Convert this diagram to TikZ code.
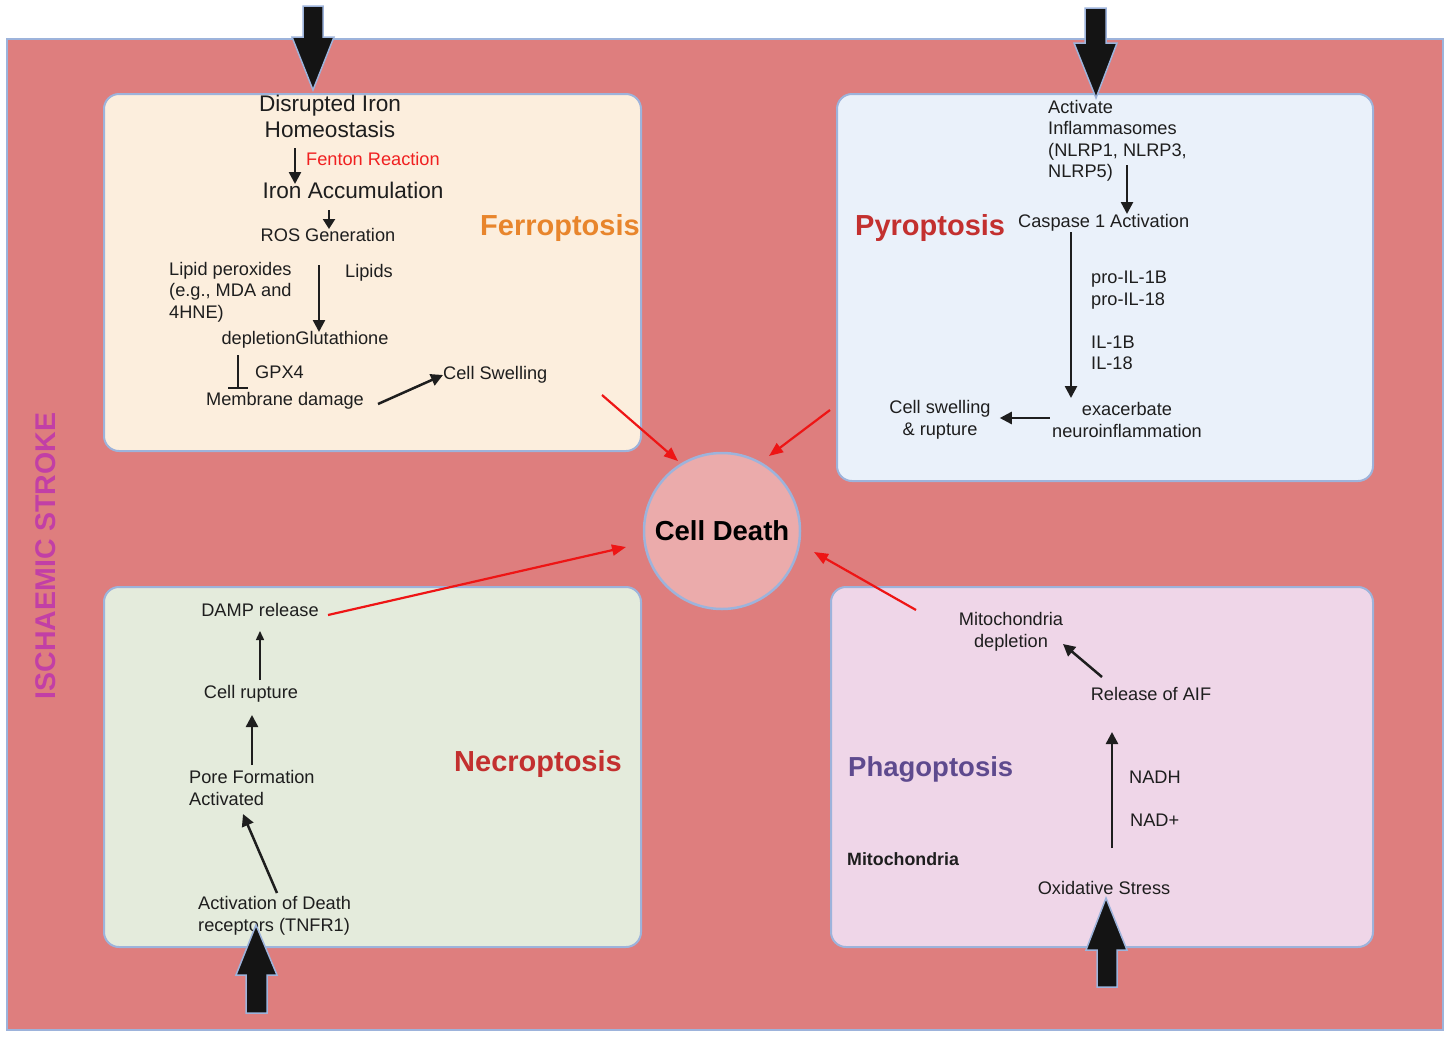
\documentclass[tikz,border=0pt]{standalone}
\usepackage{fontspec}
\setmainfont{Liberation Sans}
\usetikzlibrary{arrows.meta,calc}
\definecolor{bgred}{HTML}{DE7E7E}
\definecolor{edge}{HTML}{9DB3DB}
\definecolor{ferrofill}{HTML}{FCEEDD}
\definecolor{pyrofill}{HTML}{EAF1FA}
\definecolor{necrofill}{HTML}{E4EBDC}
\definecolor{phagofill}{HTML}{EFD6E8}
\definecolor{circfill}{HTML}{EBABAB}
\definecolor{ferroorange}{HTML}{E8852C}
\definecolor{titlered}{HTML}{C3302F}
\definecolor{phagopurple}{HTML}{5E4A8E}
\definecolor{strokemag}{HTML}{C23FA6}
\definecolor{arrred}{HTML}{EE1515}
\definecolor{fentonred}{HTML}{F02020}
\definecolor{ink}{HTML}{1E1E1E}
\begin{document}
\begin{tikzpicture}[x=1pt,y=-1pt,
  panel/.style={draw=edge,line width=2pt,rounded corners=15pt,anchor=north west,inner sep=0pt},
  txt/.style={font=\fontsize{18.2}{21.5}\selectfont,inner sep=0pt,text=ink},
  bigtxt/.style={font=\fontsize{22.6}{26}\selectfont,inner sep=0pt,text=ink},
  ttl/.style={font=\bfseries\fontsize{29}{33}\selectfont,inner sep=0pt,anchor=west},
  arr/.style={draw=ink,line width=2.5pt,-{Triangle[length=12pt,width=12pt]}},
  thinarr/.style={draw=ink,line width=1.5pt,-{Triangle[length=9pt,width=8pt]}},
  redarr/.style={draw=arrred,line width=2.2pt,-{Triangle[length=14pt,width=11pt]}},
  blockarr/.style={fill=black!92,draw=edge,line width=1.5pt,line join=miter}]
\useasboundingbox (0,0) rectangle (1452,1037);
\fill[white] (0,0) rectangle (1452,1037);
\draw[fill=bgred,draw=edge,line width=2pt] (7,39) rectangle (1443,1030);

% panels
\node[panel,fill=ferrofill,minimum width=537pt,minimum height=357pt] (fbox) at (103,93) {};
\node[panel,fill=pyrofill,minimum width=536pt,minimum height=387pt] (pbox) at (836,93) {};
\node[panel,fill=necrofill,minimum width=537pt,minimum height=360pt] (nbox) at (103,586) {};
\node[panel,fill=phagofill,minimum width=542pt,minimum height=360pt] (gbox) at (830,586) {};

% centre
\node[circle,fill=circfill,draw=edge,line width=2.5pt,minimum size=156pt,inner sep=0pt,
      font=\bfseries\fontsize{27.5}{30}\selectfont] (death) at (722,531) {Cell Death};

% side label
\node[rotate=90,font=\bfseries\fontsize{28.5}{31}\selectfont,text=strokemag,inner sep=0pt] (stroke) at (46,556) {ISCHAEMIC STROKE};

% ---------------- Ferroptosis ----------------
\node[bigtxt,align=center] (dis) at (330,116) {Disrupted Iron\\Homeostasis};
\node[txt,anchor=west,text=fentonred] (fenton) at (306,159) {Fenton Reaction};
\node[bigtxt] (ironacc) at (353,190) {Iron Accumulation};
\node[txt] (ros) at (328,235) {ROS Generation};
\node[txt,anchor=west,align=left] (lipperox) at (169,292) {Lipid peroxides\\(e.g., MDA and\\4HNE)};
\node[txt,anchor=west] (lipids) at (345,273) {Lipids};
\node[txt] (glut) at (305,340) {depletionGlutathione};
\node[txt,anchor=west] (gpx) at (255,372) {GPX4};
\node[txt] (memb) at (285,401) {Membrane damage};
\node[txt,anchor=west] (fswell) at (443,375) {Cell Swelling};
\node[ttl,text=ferroorange] (ferrot) at (480,228) {Ferroptosis};

\draw[arr] (295,148) -- (295,184);
\draw[arr,line width=2.2pt,-{Triangle[length=10pt,width=12pt]}] (329,210) -- (329,229);
\draw[arr] (319,265) -- (319,332);
\draw[draw=ink,line width=2.5pt] (238,355) -- (238,388);
\draw[draw=ink,line width=2.5pt] (228,388) -- (248,388);
\draw[arr] (378,404) -- (fswell.west);

% ---------------- Pyroptosis ----------------
\node[txt,anchor=west,align=left] (inflam) at (1048,141) {Activate\\Inflammasomes\\(NLRP1, NLRP3,\\NLRP5)};
\node[txt,anchor=west] (casp) at (1018,223) {Caspase 1 Activation};
\node[ttl,text=titlered] (pyrot) at (855,228) {Pyroptosis};
\node[txt,anchor=west,align=left] (proil) at (1091,290) {pro-IL-1B\\pro-IL-18};
\node[txt,anchor=west,align=left] (il) at (1091,353) {IL-1B\\IL-18};
\node[txt,align=center] (exac) at (1127,420) {exacerbate\\neuroinflammation};
\node[txt,align=center] (pswell) at (940,420) {Cell swelling\\\& rupture};

\draw[arr] (1127,165) -- (1127,214);
\draw[arr] (1071,232) -- (1071,398);
\draw[arr,shorten <=2pt,shorten >=9pt] (exac.west|-1127,418) -- (pswell.east|-940,418);

% ---------------- Necroptosis ----------------
\node[txt] (damp) at (260,610) {DAMP release};
\node[txt] (crupt) at (251,694) {Cell rupture};
\node[txt,anchor=west,align=left] (pore) at (189,788) {Pore Formation\\Activated};
\node[txt,anchor=west,align=left] (death1) at (198,916) {Activation of Death\\receptors (TNFR1)};
\node[ttl,text=titlered] (necrot) at (454,764) {Necroptosis};

\draw[thinarr] (260,680) -- (260,631);
\draw[arr] (252,765) -- (252,715);
\draw[arr] (277,893) -- (243,814);

% ---------------- Phagoptosis ----------------
\node[txt,align=center] (mdep) at (1011,632) {Mitochondria\\depletion};
\node[txt] (aif) at (1151,694) {Release of AIF};
\node[txt,anchor=west] (nadh) at (1129,777) {NADH};
\node[txt,anchor=west] (nad) at (1130,820) {NAD+};
\node[txt,anchor=west,font=\bfseries\fontsize{17.8}{21}\selectfont] (mito) at (847,859) {Mitochondria};
\node[ttl,text=phagopurple,font=\bfseries\fontsize{27.5}{32}\selectfont] (phagot) at (848,769) {Phagoptosis};
\node[txt] (oxs) at (1104,888) {Oxidative Stress};

\draw[arr] (1102,677) -- (1063,644);
\draw[arr] (1112,848) -- (1112,732);

% ---------------- red arrows to Cell Death ----------------
\coordinate (rf) at (602,395);
\coordinate (rp) at (830,410);
\coordinate (rn) at (328,615);
\coordinate (rg) at (916,610);
\draw[redarr] (rf) -- (678,461);
\draw[redarr] (rp) -- (769,456);
\draw[redarr] (rn) -- (626,547);
\draw[redarr] (rg) -- (814,552);

% ---------------- block arrows ----------------
\draw[blockarr] (303,6) -- (323,6) -- (323,37) -- (334,37) -- (313,90) -- (292,37) -- (303,37) -- cycle;
\draw[blockarr] (1085,8) -- (1106,8) -- (1106,43) -- (1117,43) -- (1096,98) -- (1074,43) -- (1085,43) -- cycle;
\draw[blockarr] (246,1013) -- (267,1013) -- (267,975) -- (277,975) -- (256,925) -- (236,975) -- (246,975) -- cycle;
\draw[blockarr] (1097,987) -- (1117,987) -- (1117,950) -- (1127,950) -- (1106,898) -- (1086,950) -- (1097,950) -- cycle;
\end{tikzpicture}
\end{document}
